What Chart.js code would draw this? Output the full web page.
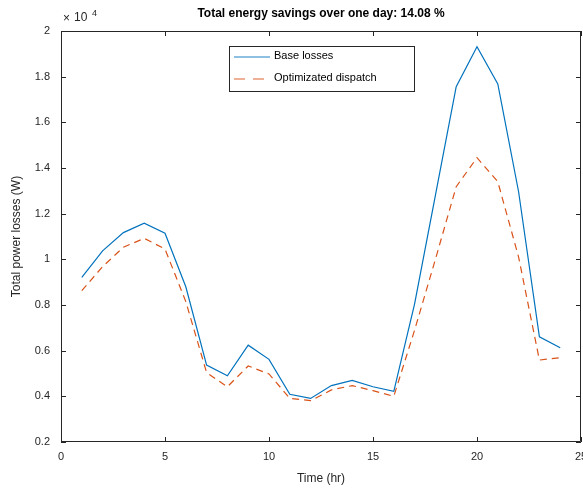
<!DOCTYPE html>
<html>
<head>
<meta charset="utf-8">
<script src="https://cdn.jsdelivr.net/npm/chart.js@4.4.0/dist/chart.umd.min.js"></script>
<style>
  html, body { margin: 0; padding: 0; background: #fff; }
  #wrap { width: 583px; height: 489px; position: relative; }
</style>
</head>
<body>
<div id="wrap"><canvas id="chart"></canvas></div>
<script>
// Datos (pérdidas en W)
const hours = [1, 2, 3, 4, 5, 6, 7, 8, 9, 10, 11, 12, 13, 14, 15, 16, 17, 18, 19, 20, 21, 22, 23, 24];
const baseLosses = [9210, 10370, 11170, 11580, 11140, 8800, 5370, 4900, 6240, 5620, 4090, 3910,
  4470, 4700, 4420, 4220, 8050, 12800, 17560, 19310, 17680, 12960, 6610, 6130];
const optimizedLosses = [8630, 9680, 10530, 10920, 10450, 8150, 5040, 4420, 5330, 4980, 3910, 3810,
  4280, 4470, 4250, 4000, 6900, 10000, 13180, 14450, 13400, 10100, 5590, 5690];
const xTicks = [0, 5, 10, 15, 20, 25];
const yTicks = [2000, 4000, 6000, 8000, 10000, 12000, 14000, 16000, 18000, 20000];
const titleText = 'Total energy savings over one day: 14.08 %';
const seriesNames = ['Base losses', 'Optimizated dispatch'];

const axisColor = '#262626';
const FONT = '"Liberation Sans", Arial, Helvetica, sans-serif';
const BLUE = '#0072BD';
const ORANGE = '#D95319';

// Ticks hacia dentro, caja, título, x10^4 y leyenda al estilo MATLAB
const matlabFrame = {
  id: 'matlabFrame',
  afterDraw(chart) {
    const { ctx, chartArea: a, scales } = chart;
    const len = 5;
    ctx.save();
    ctx.strokeStyle = axisColor;
    ctx.lineWidth = 1;
    ctx.beginPath();
    ctx.rect(a.left + 0.5, a.top + 0.5, a.right - a.left - 1, a.bottom - a.top - 1);
    xTicks.forEach(v => {
      const x = Math.round(scales.x.getPixelForValue(v)) + 0.5;
      ctx.moveTo(x, a.bottom); ctx.lineTo(x, a.bottom - len);
      ctx.moveTo(x, a.top); ctx.lineTo(x, a.top + len);
    });
    yTicks.forEach(v => {
      const y = Math.round(scales.y.getPixelForValue(v)) + 0.5;
      ctx.moveTo(a.left, y); ctx.lineTo(a.left + len, y);
      ctx.moveTo(a.right, y); ctx.lineTo(a.right - len, y);
    });
    ctx.stroke();

    // título
    ctx.fillStyle = '#000';
    ctx.font = 'bold 12px ' + FONT;
    ctx.textAlign = 'center';
    ctx.textBaseline = 'middle';
    ctx.fillText(titleText, (a.left + a.right) / 2, 14);

    // multiplicador
    ctx.fillStyle = axisColor;
    ctx.textAlign = 'left';
    ctx.font = '12px ' + FONT;
    ctx.fillText('\u00d7', a.left + 2, 19);
    ctx.fillText('10', a.left + 13, 18);
    ctx.font = '9px ' + FONT;
    ctx.fillText('4', a.left + 31, 14);

    // leyenda
    const lx = 229, ly = 46, lw = 185, lh = 45;
    ctx.fillStyle = '#fff';
    ctx.fillRect(lx, ly, lw, lh);
    ctx.strokeStyle = axisColor;
    ctx.strokeRect(lx + 0.5, ly + 0.5, lw, lh);
    const rows = [57, 79];
    chart.data.datasets.forEach((ds, i) => {
      ctx.strokeStyle = ds.borderColor;
      ctx.globalAlpha = 0.6;
      ctx.lineWidth = 1.5;
      ctx.setLineDash(i === 1 ? [11, 8] : []);
      ctx.beginPath();
      ctx.moveTo(234, rows[i]);
      ctx.lineTo(270, rows[i]);
      ctx.stroke();
      ctx.setLineDash([]);
      ctx.globalAlpha = 1;
      ctx.fillStyle = '#000';
      ctx.font = '11px ' + FONT;
      ctx.textAlign = 'left';
      ctx.fillText(ds.label, 274, rows[i] - 1);
    });
    ctx.restore();
  }
};

new Chart(document.getElementById('chart'), {
  type: 'line',
  data: {
    datasets: [{
      label: seriesNames[0],
      data: hours.map((h, i) => ({ x: h, y: baseLosses[i] })),
      borderColor: BLUE,
      borderWidth: 1.2,
      pointRadius: 0,
      tension: 0,
      fill: false
    }, {
      label: seriesNames[1],
      data: hours.map((h, i) => ({ x: h, y: optimizedLosses[i] })),
      borderColor: ORANGE,
      borderWidth: 1.2,
      borderDash: [7, 5],
      pointRadius: 0,
      tension: 0,
      fill: false
    }]
  },
  options: {
    responsive: true,
    maintainAspectRatio: false,
    animation: false,
    layout: { padding: { top: 31, right: 2, left: 0, bottom: 0 } },
    plugins: {
      legend: { display: false },
      title: { display: false },
      tooltip: { enabled: false }
    },
    scales: {
      x: {
        type: 'linear',
        min: 0,
        max: 25,
        afterBuildTicks: (scale) => { scale.ticks = xTicks.map(v => ({ value: v })); },
        afterFit: (scale) => { scale.height = 47; scale.paddingLeft = 0; scale.paddingRight = 0; },
        grid: { display: false, drawTicks: false },
        border: { display: false },
        ticks: {
          padding: 8,
          maxRotation: 0,
          color: axisColor,
          font: { family: FONT, size: 11 }
        },
        title: {
          display: true,
          text: 'Time (hr)',
          color: axisColor,
          font: { family: FONT, size: 12 },
          padding: { top: 0, bottom: 3 }
        }
      },
      y: {
        min: 2000,
        max: 20000,
        afterBuildTicks: (scale) => { scale.ticks = yTicks.map(v => ({ value: v })); },
        afterFit: (scale) => { scale.width = 61; scale.paddingTop = 0; scale.paddingBottom = 0; },
        grid: { display: false, drawTicks: false },
        border: { display: false },
        ticks: {
          padding: 11,
          color: axisColor,
          font: { family: FONT, size: 11 },
          callback: (v) => String(parseFloat((v / 10000).toFixed(2)))
        },
        title: {
          display: true,
          text: 'Total power losses (W)',
          color: axisColor,
          font: { family: FONT, size: 12 },
          padding: { top: 9, bottom: 0 }
        }
      }
    }
  },
  plugins: [matlabFrame]
});
</script>
</body>
</html>
